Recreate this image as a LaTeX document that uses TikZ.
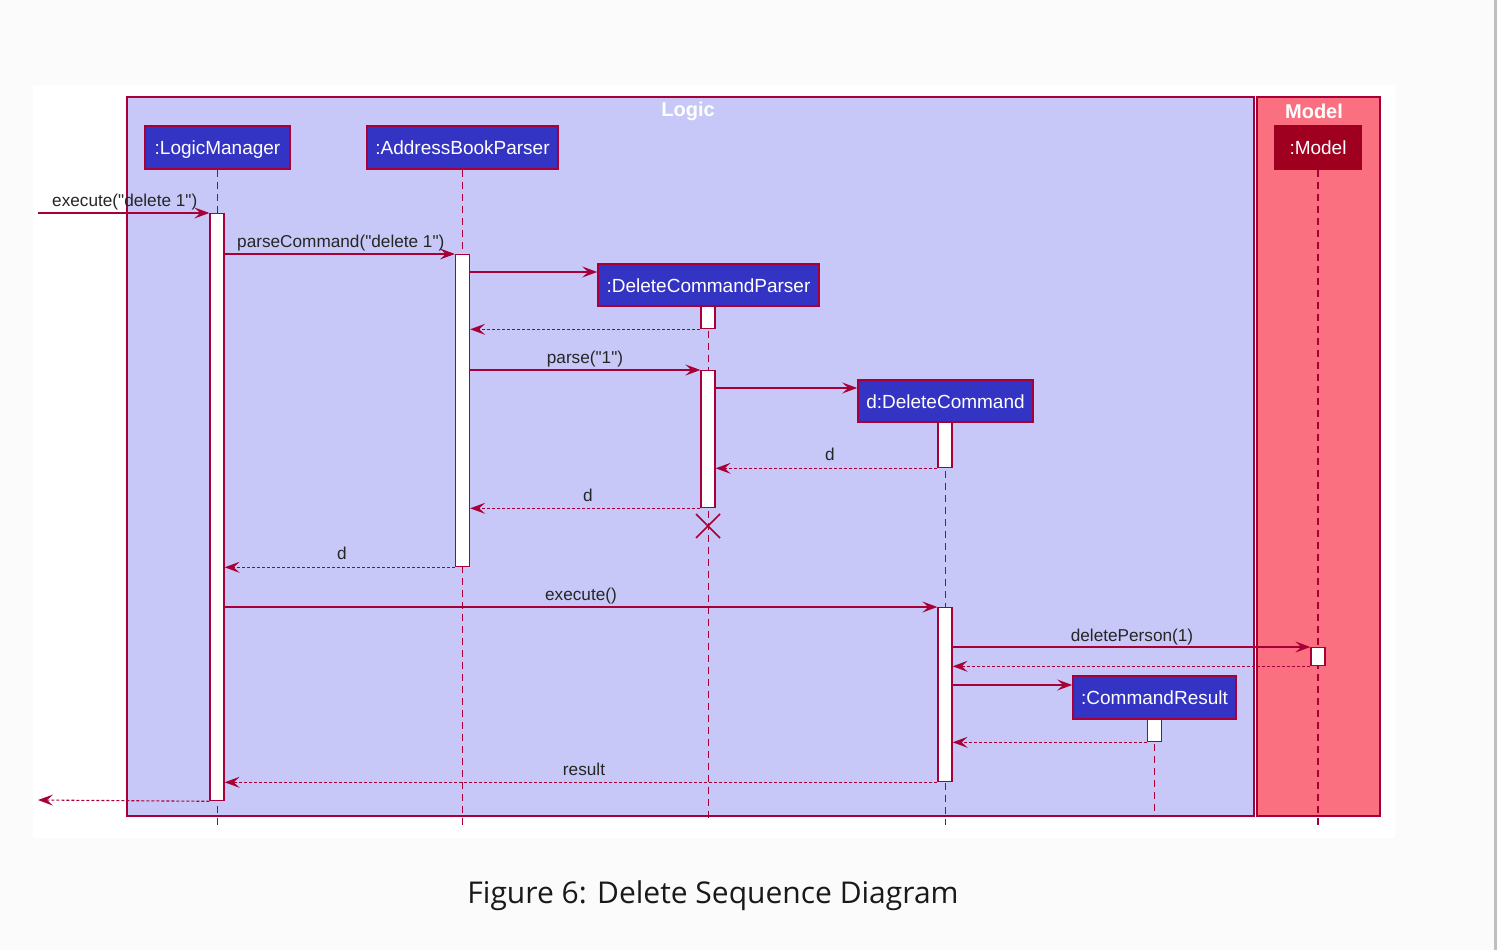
\documentclass[tikz,border=0pt]{standalone}
\usepackage{fontspec}
\newfontfamily\umlfont{Liberation Sans}
\newfontfamily\capfont{Open Sans}
\usetikzlibrary{arrows.meta}

\definecolor{umlred}{RGB}{168,0,54}
\definecolor{logicbg}{RGB}{200,200,248}
\definecolor{modelbg}{RGB}{250,112,128}
\definecolor{partblue}{RGB}{51,51,196}
\definecolor{partred}{RGB}{160,0,32}
\definecolor{pagebg}{RGB}{251,251,251}

\tikzset{
  part/.style={draw=umlred, line width=1.6pt, text=white, inner sep=0pt,
    text height=15pt, text depth=1pt,
    font=\umlfont\fontsize{19}{22}\selectfont},
  act/.style={draw=umlred, fill=white, line width=1.3pt, minimum width=14pt,
    inner sep=0pt, anchor=north},
  life/.style={draw=umlred, line width=1.1pt, dash pattern=on 7pt off 5pt},
  msg/.style={draw=umlred, line width=1.1pt,
    -{Stealth[length=15pt,width=11pt,inset=6pt]}},
  ret/.style={msg, dash pattern=on 3pt off 2pt},
  lbl/.style={font=\umlfont\fontsize{17.2}{20}\selectfont, text=black!85, inner sep=0pt, anchor=base},
  grouptitle/.style={font=\umlfont\bfseries\fontsize{20}{22}\selectfont, text=white, inner sep=0pt},
}

\begin{document}
\begin{tikzpicture}[x=1pt, y=-1pt]
            \useasboundingbox (0,0) rectangle (1498,950);
            \fill[pagebg] (0,0) rectangle (1498,950);
            \fill[white] (33,85) rectangle (1395,838);
            \draw[black!25, line width=3pt] (1495.5,0) -- (1495.5,950);

            % boxes
            \draw[umlred, fill=logicbg, line width=1.3pt] (127,97) rectangle (1254,816);
            \draw[umlred, fill=modelbg, line width=1.3pt] (1257,97) rectangle (1380,816);
            \node[grouptitle] (logic) at (688,111) {Logic};
            \node[grouptitle] (model) at (1314,111) {Model};

            % participants
            \node[part, fill=partblue, minimum width=145pt, minimum height=43pt] (lm) at (217.5,147.5) {:LogicManager};
            \node[part, fill=partblue, minimum width=191pt, minimum height=43pt] (abp) at (462.5,147.5) {:AddressBookParser};
            \node[part, fill=partblue, minimum width=221pt, minimum height=42pt] (dcp) at (708.5,285) {:DeleteCommandParser};
            \node[part, fill=partblue, minimum width=175pt, minimum height=42pt] (dc) at (945.5,401) {d:DeleteCommand};
            \node[part, fill=partblue, minimum width=163pt, minimum height=43pt] (cr) at (1154.5,697.5) {:CommandResult};
            \node[part, fill=partred, draw=partred, minimum width=86pt, minimum height=43pt] (mdl) at (1318,147.5) {:Model};

            % lifelines
            \draw[life] (lm.south) -- (lm.south |- 0,825);
            \draw[life] (abp.south) -- (abp.south |- 0,825);
            \draw[life] (dcp.south) -- (dcp.south |- 0,819);
            \draw[life] (dc.south) -- (dc.south |- 0,825);
            \draw[life] (cr.south) -- (cr.south |- 0,817);
            \draw[life] (mdl.south) -- (mdl.south |- 0,825);

            % activations
            \node[act, minimum height=587pt] (lm1) at (217,213) {};
            \node[act, minimum height=312pt] (abp1) at (462.5,254) {};
            \node[act, minimum height=22pt] (dcp1) at (708,306) {};
            \node[act, minimum height=137pt] (dcp2) at (708,370) {};
            \node[act, minimum height=45pt] (dc1) at (945,422) {};
            \node[act, minimum height=174pt] (dc2) at (945,607) {};
            \node[act, minimum height=18pt] (mdl1) at (1318,647) {};
            \node[act, minimum height=22pt] (cr1) at (1154.5,719) {};

            % messages
            \coordinate (in) at (38,213);
            \coordinate (out) at (38,800);
            \draw[msg] (in) -- (lm1.north west);
            \node[lbl, anchor=base west] at (52,206) {execute("delete 1")};
            \draw[msg] (lm1.east |- 0,254) -- (abp1.north west);
            \node[lbl, anchor=base west] at (237,247) {parseCommand("delete 1")};
            \draw[msg] (abp1.east |- 0,272) -- (dcp.west |- 0,272);
            \draw[ret] (dcp1.south west) -- (abp1.east |- dcp1.south west);
            \draw[msg] (abp1.east |- 0,370) -- (dcp2.north west);
            \node[lbl] at (585,363) {parse("1")};
            \draw[msg] (dcp2.east |- 0,388) -- (dc.west |- 0,388);
            \draw[ret] (dc1.south west) -- (dcp2.east |- dc1.south west);
            \node[lbl] at (830,460) {d};
            \draw[ret] (dcp2.south west) -- (abp1.east |- dcp2.south west);
            \node[lbl] at (588,501) {d};
            \draw[umlred, line width=1.6pt] (696,514) -- (720,538) (696,538) -- (720,514);
            \draw[ret] (abp1.south west) -- (lm1.east |- abp1.south west);
            \node[lbl] at (342,559) {d};
            \draw[msg] (lm1.east |- 0,607) -- (dc2.north west);
            \node[lbl] at (581,600) {execute()};
            \draw[msg] (dc2.east |- 0,647) -- (mdl1.north west);
            \node[lbl] at (1132,641) {deletePerson(1)};
            \draw[ret] (mdl1.south west) -- (dc2.east |- mdl1.south west);
            \draw[msg] (dc2.east |- 0,685) -- (cr.west |- 0,685);
            \draw[ret] (cr1.south west) -- (dc2.east |- cr1.south west);
            \draw[ret] (dc2.south west) -- (lm1.east |- dc2.south west);
            \node[lbl] at (584,775) {result};
            \draw[ret] (lm1.south west) -- (out);

            % caption
            \node[font=\capfont\fontsize{30}{34}\selectfont, text=black!90] (caption) at (713,896) {Figure 6: Delete Sequence Diagram};
        \end{tikzpicture}
\end{document}
